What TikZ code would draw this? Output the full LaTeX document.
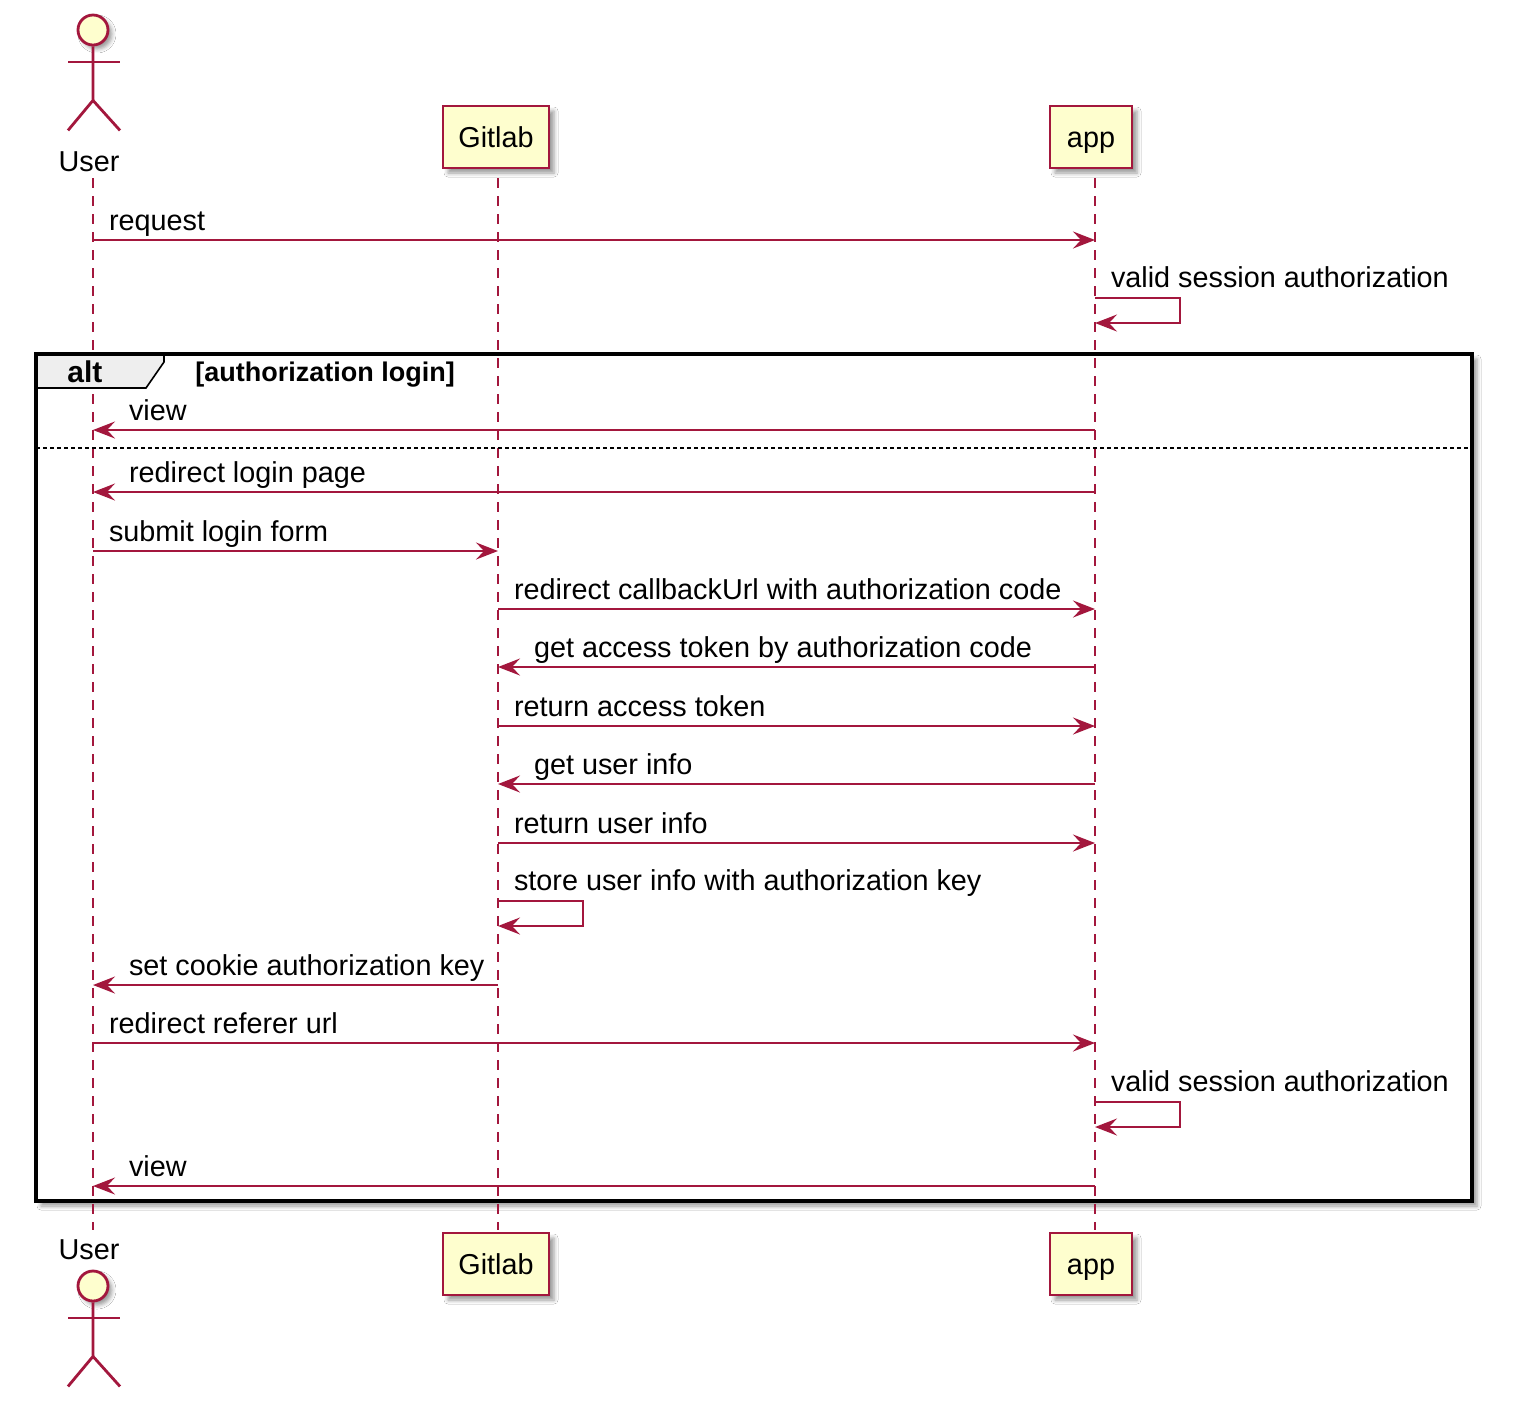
\documentclass[tikz,border=0pt]{standalone}
\usepackage{fontspec}
\setmainfont{Liberation Sans}
\usetikzlibrary{arrows.meta,shadows.blur}
\definecolor{umlred}{HTML}{A3173D}
\definecolor{umlfill}{HTML}{FEFECE}
\definecolor{tabgray}{HTML}{EEEEEE}
\begin{document}
\begin{tikzpicture}[x=0.5pt,y=-0.5pt,
    font=\fontsize{14.4}{17}\selectfont,
    part/.style={draw=umlred,fill=umlfill,line width=1.1pt,inner sep=0pt,
        minimum height=31pt,text height=10.5pt,text depth=0.5pt,
        blur shadow={shadow xshift=2.5pt,shadow yshift=-2.5pt,shadow blur radius=2pt}},
    head/.style={circle,draw=umlred,fill=umlfill,line width=1.4pt,minimum size=15pt,inner sep=0pt,
        blur shadow={shadow xshift=2pt,shadow yshift=-2pt,shadow blur radius=2pt}},
    actor/.style={umlred,line width=1.4pt},
    life/.style={umlred,line width=0.8pt,dash pattern=on 5pt off 4pt},
    msg/.style={umlred,line width=1pt,-{Stealth[length=11pt,width=8.5pt,inset=4pt]}},
    lbl/.style={anchor=base west,inner sep=0pt,black}]
    \useasboundingbox (0,0) rectangle (1520,1410);
    \fill[white] (0,0) rectangle (1520,1410);

    % alt frame (background and shadow)
    \fill[white,blur shadow={shadow xshift=2.5pt,shadow yshift=-2.5pt,shadow blur radius=2pt}]
        (36,354) rectangle (1472,1201);

    % lifelines and message points
    \foreach \p/\x in {U/93,G/498,A/1095} {
        \coordinate (\p0) at (\x,178);
        \coordinate (\p99) at (\x,1230);
        \draw[life] (\p0) -- (\p99);
        \foreach \n/\y in {1/240,2/298,3/323,4/430,5/492,6/551,7/609,8/667,9/726,
                10/784,11/843,12/901,13/926,14/985,15/1043,16/1102,17/1127,18/1186}
            \coordinate (\p\n) at (\x,\y);
    }

    % alt frame
    \filldraw[fill=tabgray,line width=0.8pt] (36,354) -- (164,354) -- (164,362) -- (146,388) -- (36,388);
    \draw[line width=1.7pt] (36,354) rectangle (1472,1201);
    \draw[line width=1pt,dash pattern=on 2pt off 1.5pt] (36,448) -- (1472,448);
    \node[lbl,font=\fontsize{15}{18}\selectfont\bfseries] (altLbl) at (67,382) {alt};
    \node[lbl,font=\fontsize{13.5}{16}\selectfont\bfseries] (altCond) at (195,381) {[authorization login]};

    % messages
    \draw[msg] (U1) node[lbl,xshift=7.5pt,yshift=5pt]{request} -- (A1);
    \draw[msg] (A2) node[lbl,xshift=7.5pt,yshift=5.5pt]{valid session authorization} -- ++(85,0) |- (A3);
    \draw[msg] (A4) -- (U4) node[lbl,xshift=17.5pt,yshift=5pt]{view};
    \draw[msg] (A5) -- (U5) node[lbl,xshift=17.5pt,yshift=5pt]{redirect login page};
    \draw[msg] (U6) node[lbl,xshift=7.5pt,yshift=5pt]{submit login form} -- (G6);
    \draw[msg] (G7) node[lbl,xshift=7.5pt,yshift=5pt]{redirect callbackUrl with authorization code} -- (A7);
    \draw[msg] (A8) -- (G8) node[lbl,xshift=17.5pt,yshift=5pt]{get access token by authorization code};
    \draw[msg] (G9) node[lbl,xshift=7.5pt,yshift=5pt]{return access token} -- (A9);
    \draw[msg] (A10) -- (G10) node[lbl,xshift=17.5pt,yshift=5pt]{get user info};
    \draw[msg] (G11) node[lbl,xshift=7.5pt,yshift=5pt]{return user info} -- (A11);
    \draw[msg] (G12) node[lbl,xshift=7.5pt,yshift=5.5pt]{store user info with authorization key} -- ++(85,0) |- (G13);
    \draw[msg] (G14) -- (U14) node[lbl,xshift=17.5pt,yshift=5pt]{set cookie authorization key};
    \draw[msg] (U15) node[lbl,xshift=7.5pt,yshift=5pt]{redirect referer url} -- (A15);
    \draw[msg] (A16) node[lbl,xshift=7.5pt,yshift=5.5pt]{valid session authorization} -- ++(85,0) |- (A17);
    \draw[msg] (A18) -- (U18) node[lbl,xshift=17.5pt,yshift=5pt]{view};

    % participants
    \node[part,minimum width=53pt] (gitTop) at (496,137) {Gitlab};
    \node[part,minimum width=41pt] (appTop) at (1091,137) {app};
    \node[part,minimum width=53pt] (gitBot) at (496,1264) {Gitlab};
    \node[part,minimum width=41pt] (appBot) at (1091,1264) {app};
    \node[anchor=base,inner sep=0pt] (userTop) at (89,171) {User};
    \node[anchor=base,inner sep=0pt] (userBot) at (89,1259) {User};
    \foreach \n/\y in {headTop/30,headBot/1286} {
        \node[head] (\n) at (93,\y) {};
        \draw[actor] (\n.south) -- ++(0,54) coordinate (\n hip) -- ++(-25,30);
        \draw[actor] (\n hip) -- ++(27,30);
        \draw[actor] ([shift={(-25,32)}]\n.center) -- ([shift={(27,32)}]\n.center);
    }
\end{tikzpicture}
\end{document}
